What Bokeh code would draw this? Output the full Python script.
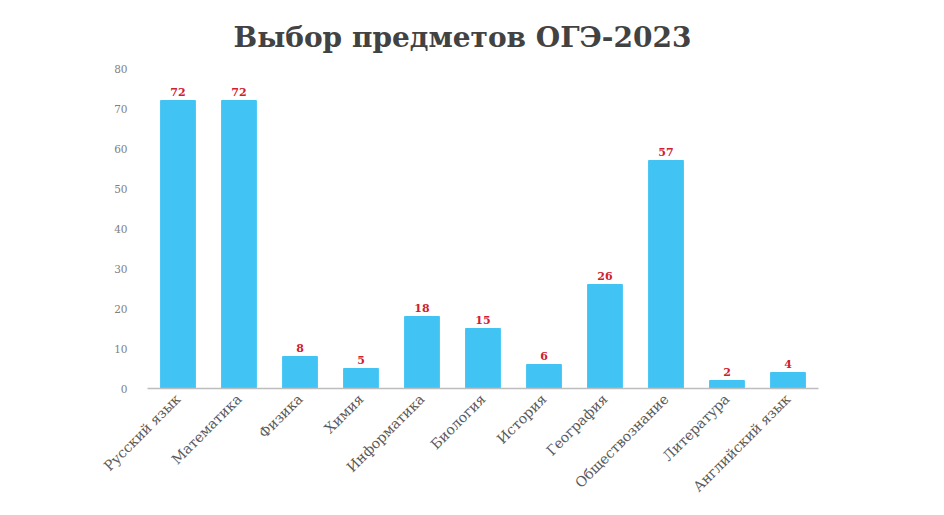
from math import pi
from bokeh.plotting import figure
from bokeh.models import ColumnDataSource, Range1d, FactorRange
from bokeh.core.properties import value
from bokeh.embed import file_html
from bokeh.resources import INLINE

subjects = ["Русский язык", "Математика", "Физика", "Химия", "Информатика",
            "Биология", "История", "География", "Обществознание", "Литература",
            "Английский язык"]
counts = [72, 72, 8, 5, 18, 15, 6, 26, 57, 2, 4]
y_ticks = [0, 10, 20, 30, 40, 50, 60, 70, 80]

src = ColumnDataSource(dict(x=subjects, y=counts, lbl=[str(c) for c in counts]))

FONT = "DejaVu Serif"

p = figure(x_range=FactorRange(*subjects, range_padding=0.0), y_range=Range1d(0, 80),
           width=928, height=507, output_backend="svg", toolbar_location=None,
           min_border_left=147, min_border_right=110, min_border_top=68, min_border_bottom=119)
p.title.text = "Выбор предметов ОГЭ-2023"
p.title.align = "left"
p.title.offset = 86
p.title.text_font = FONT
p.title.text_font_size = "28px"
p.title.text_font_style = "bold"
p.title.text_color = "#424242"
p.title.standoff = 29

p.vbar(x="x", top="y", width=0.57, source=src, color="#41C4F4")
p.text(x="x", y="y", text="lbl", source=src, text_align="center", text_baseline="bottom",
       y_offset=-5, text_font=value(FONT), text_font_size="11px", text_font_style="bold",
       text_color="#D0202F")

p.outline_line_color = None
p.xgrid.grid_line_color = None
p.ygrid.grid_line_color = None
p.background_fill_color = "white"

p.yaxis.ticker = y_ticks
p.yaxis.axis_line_color = None
p.yaxis.major_tick_line_color = None
p.yaxis.major_tick_out = 0
p.yaxis.major_tick_in = 0
p.yaxis.minor_tick_line_color = None
p.yaxis.major_label_text_font = FONT
p.yaxis.major_label_text_font_size = "10.5px"
p.yaxis.major_label_text_color = "#808080"
p.yaxis.major_label_standoff = 20

p.xaxis.axis_line_color = "#bdbdbd"
p.xaxis.axis_line_width = 1.5
p.xaxis.major_tick_line_color = None
p.xaxis.major_tick_out = 0
p.xaxis.major_tick_in = 0
p.xaxis.minor_tick_line_color = None
p.xaxis.major_label_orientation = pi / 4
p.xaxis.major_label_text_font = FONT
p.xaxis.major_label_text_font_size = "14px"
p.xaxis.major_label_text_color = "#5a5a5a"
p.xaxis.major_label_standoff = 8

open("out.html", "w").write(file_html(p, INLINE))
